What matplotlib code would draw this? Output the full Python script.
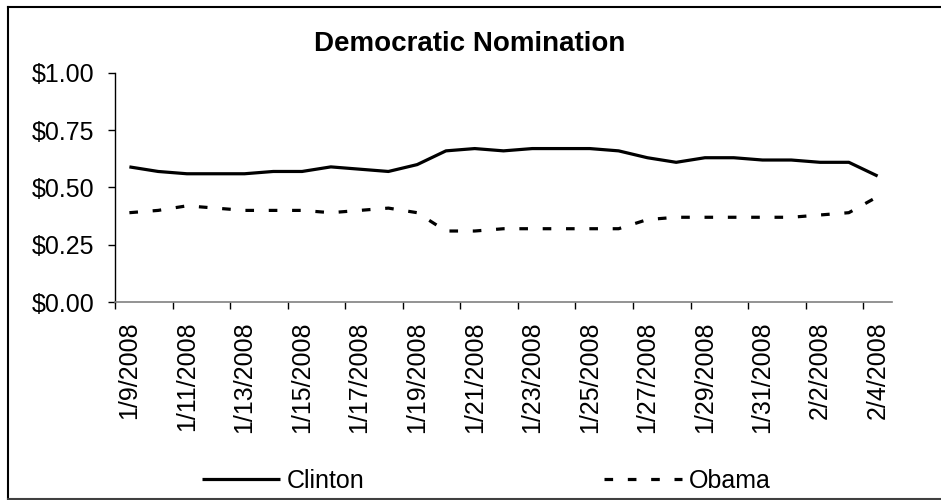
import matplotlib
matplotlib.use("Agg")
import matplotlib.pyplot as plt
from matplotlib.lines import Line2D

plt.rcParams['font.family'] = ['Liberation Sans', 'DejaVu Sans']
plt.rcParams['lines.scale_dashes'] = False

# Daily contract prices, 1/9/2008 through 2/4/2008
dates = ['1/9/2008', '1/10/2008', '1/11/2008', '1/12/2008', '1/13/2008', '1/14/2008',
         '1/15/2008', '1/16/2008', '1/17/2008', '1/18/2008', '1/19/2008', '1/20/2008',
         '1/21/2008', '1/22/2008', '1/23/2008', '1/24/2008', '1/25/2008', '1/26/2008',
         '1/27/2008', '1/28/2008', '1/29/2008', '1/30/2008', '1/31/2008', '2/1/2008',
         '2/2/2008', '2/3/2008', '2/4/2008']
clinton = [0.59, 0.57, 0.56, 0.56, 0.56, 0.57, 0.57, 0.59, 0.58, 0.57, 0.60, 0.66,
           0.67, 0.66, 0.67, 0.67, 0.67, 0.66, 0.63, 0.61, 0.63, 0.63, 0.62, 0.62,
           0.61, 0.61, 0.55]
obama = [0.39, 0.40, 0.42, 0.41, 0.40, 0.40, 0.40, 0.39, 0.40, 0.41, 0.39, 0.31,
         0.31, 0.32, 0.32, 0.32, 0.32, 0.32, 0.36, 0.37, 0.37, 0.37, 0.37, 0.37,
         0.38, 0.39, 0.46]
y_ticks = [0.0, 0.25, 0.50, 0.75, 1.00]
y_labels = ['$0.00', '$0.25', '$0.50', '$0.75', '$1.00']
title = 'Democratic Nomination'

W, H = 941, 500
fig = plt.figure(figsize=(W / 100, H / 100), dpi=100)
ax = fig.add_axes([115 / W, 1 - 302 / H, (892 - 115) / W, (302 - 73) / H])

x = list(range(len(dates)))
ax.plot(x, clinton, color='black', lw=2.3, solid_capstyle='butt', label='Clinton')
ax.plot(x, obama, color='black', lw=2.3, linestyle=(0, (6.2, 10.6)),
        dash_capstyle='butt', label='Obama')

ax.set_xlim(-0.5, len(dates) - 0.5)
ax.set_ylim(0, 1)
ax.set_yticks(y_ticks)
ax.set_yticklabels(y_labels, fontsize=18)

# category labels on every other day, tick marks between categories
ax.set_xticks(x[::2])
ax.set_xticklabels(dates[::2], rotation=90, fontsize=18)
ax.set_xticks([i - 0.5 for i in range(0, len(dates), 2)], minor=True)
ax.tick_params(axis='x', which='major', length=0, pad=14)
ax.tick_params(axis='x', which='minor', length=5, width=1, direction='out', color='black')
ax.tick_params(axis='y', length=5, width=1, direction='out', pad=10, color='black')

for s in ['top', 'right']:
    ax.spines[s].set_visible(False)
ax.spines['left'].set_color('black')
ax.spines['left'].set_linewidth(1)
ax.spines['bottom'].set_color('#808080')
ax.spines['bottom'].set_linewidth(1.2)

fig.text(470 / W, 1 - 44 / H, title, ha='center', va='center',
         fontsize=20, fontweight='bold')

fig.legend(loc='center left', bbox_to_anchor=(202 / W, 1 - 481 / H), ncol=2,
           frameon=False, fontsize=18, handlelength=3.1, handletextpad=0.28,
           columnspacing=9.6, borderpad=0, borderaxespad=0)

# chart area border
border_kw = dict(color='black', lw=1.5, transform=fig.transFigure)
fig.add_artist(Line2D([7.5 / W, 7.5 / W], [1 - 6.5 / H, 1 - 498.5 / H], **border_kw))
fig.add_artist(Line2D([7.5 / W, 1.0], [1 - 6.5 / H, 1 - 6.5 / H], **border_kw))
fig.add_artist(Line2D([7.5 / W, 1.0], [1 - 498.5 / H, 1 - 498.5 / H],
                      color='#404040', lw=1.5, transform=fig.transFigure))

fig.savefig('out.png', dpi=100)
